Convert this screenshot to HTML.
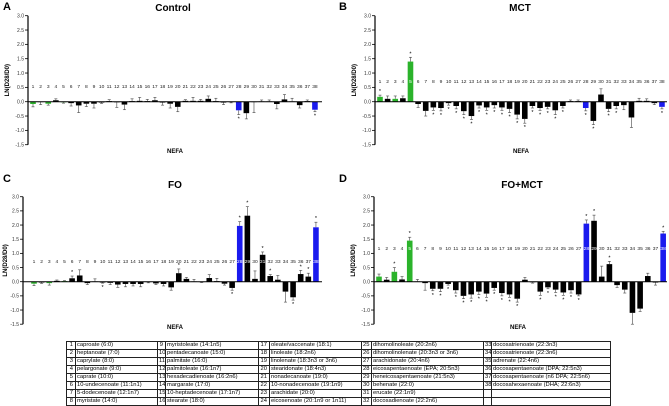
<!DOCTYPE html>
<html><head><meta charset="utf-8"><style>
body{margin:0;background:#fff;width:669px;height:405px;overflow:hidden;font-family:"Liberation Sans",Arial,sans-serif}
svg{position:absolute;left:0;top:0}
table{position:absolute;left:66px;top:341px;border-collapse:collapse;font-size:5.8px;line-height:7px;table-layout:fixed;width:544px}
td{border:0.8px solid #222;padding:0 1px;white-space:nowrap;overflow:hidden;height:6.3px}
td.n{text-align:right;padding-right:2px}
</style></head><body>
<svg id="fig" width="669" height="405"></svg>
<table>
<colgroup><col style="width:9px"><col style="width:82px"><col style="width:8px"><col style="width:93px"><col style="width:11px"><col style="width:92px"><col style="width:10px"><col style="width:112px"><col style="width:8px"><col style="width:119px"></colgroup>
<tr><td class="n">1</td><td>caproate (6:0)</td><td class="n">9</td><td>myristoleate (14:1n5)</td><td class="n">17</td><td>oleate/vaccenate (18:1)</td><td class="n">25</td><td>dihomolinoleate (20:2n6)</td><td class="n">33</td><td>docosatrienoate (22:3n3)</td></tr>
<tr><td class="n">2</td><td>heptanoate (7:0)</td><td class="n">10</td><td>pentadecanoate (15:0)</td><td class="n">18</td><td>linoleate (18:2n6)</td><td class="n">26</td><td>dihomolinolenate (20:3n3 or 3n6)</td><td class="n">34</td><td>docosatrienoate (22:3n6)</td></tr>
<tr><td class="n">3</td><td>caprylate (8:0)</td><td class="n">11</td><td>palmitate (16:0)</td><td class="n">19</td><td>linolenate (18:3n3 or 3n6)</td><td class="n">27</td><td>arachidonate (20:4n6)</td><td class="n">35</td><td>adrenate (22:4n6)</td></tr>
<tr><td class="n">4</td><td>pelargonate (9:0)</td><td class="n">12</td><td>palmitoleate (16:1n7)</td><td class="n">20</td><td>stearidonate (18:4n3)</td><td class="n">28</td><td>eicosapentaenoate (EPA; 20:5n3)</td><td class="n">36</td><td>docosapentaenoate (DPA; 22:5n3)</td></tr>
<tr><td class="n">5</td><td>caprate (10:0)</td><td class="n">13</td><td>hexadecadienoate (16:2n6)</td><td class="n">21</td><td>nonadecanoate (19:0)</td><td class="n">29</td><td>heneicosapentaenoate (21:5n3)</td><td class="n">37</td><td>docosapentaenoate (n6 DPA; 22:5n6)</td></tr>
<tr><td class="n">6</td><td>10-undecenoate (11:1n1)</td><td class="n">14</td><td>margarate (17:0)</td><td class="n">22</td><td>10-nonadecenoate (19:1n9)</td><td class="n">30</td><td>behenate (22:0)</td><td class="n">38</td><td>docosahexaenoate (DHA; 22:6n3)</td></tr>
<tr><td class="n">7</td><td>5-dodecenoate (12:1n7)</td><td class="n">15</td><td>10-heptadecenoate (17:1n7)</td><td class="n">23</td><td>arachidate (20:0)</td><td class="n">31</td><td>erucate (22:1n9)</td><td class="n"></td><td></td></tr>
<tr><td class="n">8</td><td>myristate (14:0)</td><td class="n">16</td><td>stearate (18:0)</td><td class="n">24</td><td>eicosenoate (20:1n9 or 1n11)</td><td class="n">32</td><td>docosadienoate (22:2n6)</td><td class="n"></td><td></td></tr>
</table>
<script>
const ticks=[3.0,2.5,2.0,1.5,1.0,0.5,0.0,-0.5,-1.0,-1.5];
const tickLabels=["3.0","2.5","2.0","1.5","1.0","0.5","0.0","-0.5","-1.0","-1.5"];
const greenIdx=[1,3,5];
const blueIdx=[28,38];
const valsA=[-0.08,-0.01,-0.07,0.05,-0.02,-0.05,-0.13,-0.07,-0.07,-0.03,0.02,-0.02,-0.1,0.02,0.03,0.02,0.05,-0.03,-0.07,-0.18,0.03,0.03,0.03,0.1,0.02,-0.03,-0.01,-0.3,-0.4,-0.01,0.01,0.01,-0.08,0.08,0.01,-0.12,0.02,-0.28];
const errA=[0.1,0.09,0.05,0.05,0.03,0.1,0.25,0.1,0.15,0.03,0.05,0.18,0.18,0.08,0.12,0.06,0.1,0.09,0.15,0.17,0.04,0.12,0.05,0.1,0.1,0.07,0.03,0.15,0.2,0.37,0.05,0.05,0.17,0.17,0.11,0.1,0.04,0.07];
const starA=[28,38];
const valsB=[0.17,0.1,0.1,0.12,1.4,-0.08,-0.32,-0.2,-0.22,-0.05,-0.15,-0.33,-0.5,-0.13,-0.2,-0.12,-0.2,-0.25,-0.45,-0.6,-0.15,-0.22,-0.18,-0.3,-0.15,0.02,0.02,-0.22,-0.67,0.25,-0.25,-0.15,-0.12,-0.55,0.03,0.03,-0.05,-0.18];
const errB=[0.06,0.1,0.1,0.08,0.15,0.12,0.18,0.1,0.1,0.07,0.1,0.12,0.12,0.09,0.1,0.1,0.1,0.13,0.15,0.15,0.07,0.08,0.07,0.15,0.07,0.04,0.04,0.1,0.13,0.2,0.1,0.1,0.16,0.35,0.09,0.07,0.05,0.07];
const starB=[1,5,8,9,10,11,12,13,14,15,16,17,18,19,20,21,22,23,24,25,28,29,31,32,38];
const valsC=[-0.07,-0.03,-0.05,0.03,0.02,0.12,0.22,-0.05,0.01,-0.03,-0.04,-0.1,-0.08,-0.08,-0.08,-0.01,-0.06,-0.08,-0.2,0.3,0.1,0.01,-0.01,0.13,0.02,-0.07,-0.22,1.97,2.33,0.1,0.95,0.2,0.07,-0.35,-0.55,0.27,0.18,1.92];
const errC=[0.07,0.03,0.07,0.03,0.02,0.08,0.2,0.05,0.09,0.02,0.06,0.1,0.1,0.07,0.1,0.03,0.04,0.07,0.1,0.15,0.05,0.07,0.02,0.12,0.1,0.05,0.08,0.15,0.32,0.28,0.1,0.05,0.15,0.37,0.1,0.13,0.12,0.18];
const starC=[6,10,20,27,28,29,31,32,35,36,37,38];
const valsD=[0.18,0.07,0.35,0.08,1.45,0.01,-0.05,-0.25,-0.25,-0.08,-0.3,-0.5,-0.45,-0.35,-0.42,-0.22,-0.4,-0.45,-0.6,0.07,-0.02,-0.35,-0.2,-0.28,-0.38,-0.3,-0.45,2.05,2.15,0.18,0.62,-0.12,-0.28,-1.1,-0.95,0.2,-0.03,1.7];
const errD=[0.09,0.08,0.15,0.1,0.12,0.07,0.25,0.07,0.1,0.04,0.1,0.1,0.13,0.1,0.13,0.08,0.1,0.1,0.12,0.08,0.03,0.13,0.05,0.1,0.1,0.1,0.05,0.13,0.2,0.37,0.1,0.08,0.12,0.4,0.1,0.1,0.09,0.08];
const starD=[3,5,8,9,10,11,12,13,14,15,16,17,18,19,22,23,24,25,26,27,28,29,31,38];

const NS="http://www.w3.org/2000/svg";
const svg=document.getElementById('fig');
function mk(tag,attrs,parent){const e=document.createElementNS(NS,tag);for(const k in attrs)e.setAttribute(k,attrs[k]);(parent||svg).appendChild(e);return e;}
const panels=[
 {key:'a',letter:'A',title:'Control',vals:valsA,err:errA,stars:starA,axisX:28,firstX:33,step:7.62,y0:101.7,unit:28.67,labelY:88,endX:322,titleX:173,titleY:11,letY:10,letX:3,nefaY:153,nefaX:175},
 {key:'b',letter:'B',title:'MCT',vals:valsB,err:errB,stars:starB,axisX:375,firstX:380,step:7.62,y0:101.7,unit:28.67,labelY:83,endX:667,titleX:520,titleY:11,letY:10,letX:339,nefaY:153,nefaX:521},
 {key:'c',letter:'C',title:'FO',vals:valsC,err:errC,stars:starC,axisX:23,firstX:34,step:7.62,y0:281.7,unit:28.33,labelY:263,endX:322,titleX:175,titleY:188,letY:182,letX:3,nefaY:329,nefaX:175},
 {key:'d',letter:'D',title:'FO+MCT',vals:valsD,err:errD,stars:starD,axisX:374,firstX:379,step:7.68,y0:281.7,unit:28.33,labelY:250,endX:667,titleX:522,titleY:188,letY:182,letX:339,nefaY:329,nefaX:518}
];
panels.forEach(p=>{
 const g=mk('g',{});
 
 
 const yS=v=>p.y0-v*p.unit;
 const xS=i=>p.firstX+i*p.step;
 const L=mk('text',{x:p.letX,y:p.letY,'font-size':11,'font-weight':'bold'},g);L.textContent=p.letter;
 
 const T=mk('text',{x:p.titleX,y:p.titleY,'font-size':10,'font-weight':'bold','text-anchor':'middle'},g);T.textContent=p.title;
 
 const N=mk('text',{x:p.nefaX,y:p.nefaY,'font-size':6,'font-weight':'bold','text-anchor':'middle'},g);N.textContent='NEFA';
 
 const yl=(yS(3)+yS(-1.5))/2;
 const Y=mk('text',{x:0,y:0,'font-size':6,'font-weight':'bold','text-anchor':'middle',transform:`translate(${Math.max(p.axisX-19,7)},${yl}) rotate(-90)`},g);Y.textContent='LN(D28/D0)';
 
 const ax=mk('line',{x1:p.axisX,x2:p.axisX,y1:yS(3),y2:yS(-1.5),stroke:'#000','stroke-width':1.2},g);
 
 ticks.forEach((t,i)=>{
  mk('line',{x1:p.axisX-3,x2:p.axisX,y1:yS(t),y2:yS(t),stroke:'#000','stroke-width':0.8},g);
  const tl=mk('text',{x:p.axisX-4,y:yS(t)+1.8,'font-size':5,'text-anchor':'end',fill:'#333'},g);tl.textContent=tickLabels[i];
  
 });
 p.vals.forEach((v,i)=>{
  const n=i+1,cx=xS(i),w=5.6;
  const col=greenIdx.includes(n)?'#2bb32b':blueIdx.includes(n)?'#1a1aee':'#000';
  const e=v+(v>=0?p.err[i]:-p.err[i]);
  mk('line',{x1:cx,x2:cx,y1:yS(v),y2:yS(e),stroke:'#444','stroke-width':0.6},g);
  mk('line',{x1:cx-1.5,x2:cx+1.5,y1:yS(e),y2:yS(e),stroke:'#444','stroke-width':0.6},g);
  const r=mk('rect',{x:cx-w/2,y:Math.min(yS(v),yS(0)),width:w,height:Math.max(Math.abs(yS(v)-yS(0)),0.4),fill:col},g);
  
  if(p.stars.includes(n)){
   const s=mk('text',{x:cx,y:v>=0?yS(e)-2:yS(e)+6,'font-size':5.5,'text-anchor':'middle'},g);s.textContent='*';
   
  }
  const inside=v>0&&yS(v)<p.labelY-3;
  const nl=mk('text',{x:cx,y:p.labelY,'font-size':4.9,'text-anchor':'middle',fill:inside?'#fff':'#222'},g);nl.textContent=n;
  
 });
 const z=mk('line',{x1:p.axisX,x2:p.endX,y1:yS(0),y2:yS(0),stroke:'#000','stroke-width':1},g);
 
});
</script>
</body></html>
